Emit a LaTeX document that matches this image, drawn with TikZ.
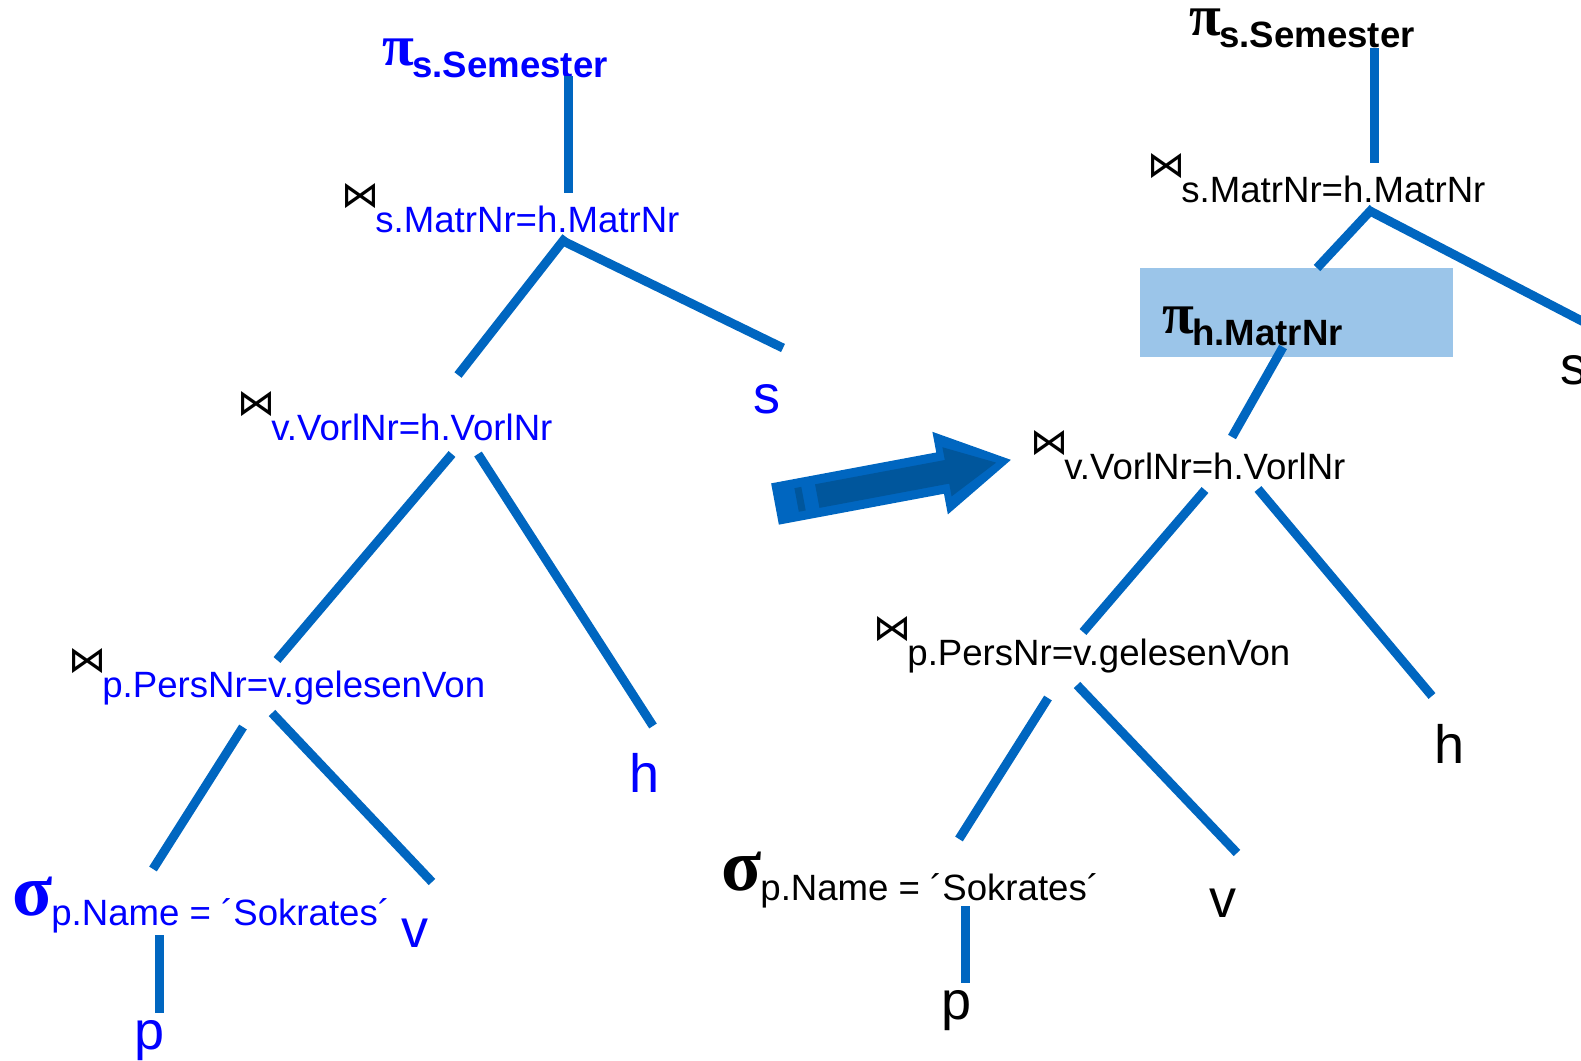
\documentclass[tikz,border=0pt]{standalone}
\usepackage{fontspec}
\usepackage{graphicx}
\setmainfont{Liberation Sans}
\newfontfamily\symfont{Liberation Serif}
\newfontfamily\bowfont{DejaVu Sans}
\definecolor{EDGE}{HTML}{0066C0}
\definecolor{TXT}{HTML}{0000FF}
\definecolor{HILITE}{HTML}{9BC5E9}
\definecolor{ARROWIN}{HTML}{00569C}
% operator labels: symbol, then the condition as subscript
\newcommand{\joinsym}{\resizebox{19pt}{12pt}{\bowfont ⋈}}
\newcommand{\njoin}[1]{\makebox[15pt][l]{\hspace{-2pt}\color{black}\raisebox{12.5pt}{\joinsym}}#1}
\newcommand{\nproj}[1]{\makebox[15pt][l]{\raisebox{6pt}{\symfont\bfseries\fontsize{29}{29}\selectfont π}}{\bfseries #1}}
\newcommand{\nsel}[1]{\makebox[19.5pt][l]{\raisebox{5pt}{\symfont\bfseries\fontsize{37}{37}\selectfont σ}}#1}

\begin{document}
\begin{tikzpicture}[x=0.5pt,y=-0.5pt]
\tikzset{lbl/.style={anchor=base west,inner sep=0pt,font=\fontsize{18.3}{20}\selectfont},
 leaf/.style={anchor=base west,inner sep=0pt,font=\fontsize{27}{30}\selectfont},
 edge/.style={line width=4.5pt,EDGE},
 arrowout/.style={fill=EDGE},arrowin/.style={fill=ARROWIN}}
\useasboundingbox (0,0) rectangle (1581,1061);

% left tree
\node[lbl,text=TXT] (Lproj) at (382,77) {\nproj{s.Semester}};
\node[lbl,text=TXT] (Ljm) at (345,232) {\njoin{s.MatrNr=h.MatrNr}};
\node[lbl,text=TXT] (Ljv) at (241,440) {\njoin{v.VorlNr=h.VorlNr}};
\node[lbl,text=TXT] (Ljp) at (72,697) {\njoin{p.PersNr=v.gelesenVon}};
\node[lbl,text=TXT] (Lsel) at (12,925) {\nsel{p.Name = ´Sokrates´}};
\node[leaf,text=TXT] (Ls) at (753,413) {s};
\node[leaf,text=TXT] (Lh) at (629,792) {h};
\node[leaf,text=TXT] (Lv) at (401,947) {v};
\node[leaf,text=TXT] (Lp) at (134,1049) {p};

\coordinate (Lproj-o) at (568,76); \coordinate (Ljm-i) at (568,193);
\coordinate (Ljm-o) at (566,237); \coordinate (Ljv-i) at (458,375);
\coordinate (Ljm-r) at (563,241); \coordinate (Ls-i) at (783,348);
\coordinate (Ljv-o) at (452,454); \coordinate (Ljp-i) at (277,660);
\coordinate (Ljv-r) at (478,454); \coordinate (Lh-i) at (653,726);
\coordinate (Ljp-o) at (243,727); \coordinate (Lsel-i) at (153,869);
\coordinate (Ljp-r) at (272,713); \coordinate (Lv-i) at (432,882);
\coordinate (Lsel-o) at (159,935); \coordinate (Lp-i) at (159,1013);
\draw[edge] (Lproj-o) -- (Ljm-i);
\draw[edge] (Ljm-o) -- (Ljv-i);
\draw[edge] (Ljm-r) -- (Ls-i);
\draw[edge] (Ljv-o) -- (Ljp-i);
\draw[edge] (Ljv-r) -- (Lh-i);
\draw[edge] (Ljp-o) -- (Lsel-i);
\draw[edge] (Ljp-r) -- (Lv-i);
\draw[edge] (Lsel-o) -- (Lp-i);

% rewrite arrow
\begin{scope}[shift={(775,504)},rotate=10.6]
\path[arrowout] (0,-21) -- (168,-21) -- (168,-42) -- (240,0) -- (168,42) -- (168,21) -- (0,21) -- cycle;
\path[arrowin] (43,-12) -- (175,-12) -- (175,-25) -- (225,0) -- (175,25) -- (175,12) -- (43,12) -- cycle;
\path[arrowin] (22,-12) rectangle (29,12);
\end{scope}

% right tree
\fill[HILITE] (1140,268) rectangle (1453,357);
\node[lbl] (Rproj) at (1189,47) {\nproj{s.Semester}};
\node[lbl] (Rjm) at (1151,202) {\njoin{s.MatrNr=h.MatrNr}};
\node[lbl] (Rprojh) at (1162,345) {\nproj{h.MatrNr}};
\node[lbl] (Rjv) at (1034,479) {\njoin{v.VorlNr=h.VorlNr}};
\node[lbl] (Rjp) at (877,665) {\njoin{p.PersNr=v.gelesenVon}};
\node[lbl] (Rsel) at (721,900) {\nsel{p.Name = ´Sokrates´}};
\node[leaf] (Rs) at (1560,384) {s};
\node[leaf] (Rh) at (1434,763) {h};
\node[leaf] (Rv) at (1209,917) {v};
\node[leaf] (Rp) at (941,1019) {p};

\coordinate (Rproj-o) at (1374,48); \coordinate (Rjm-i) at (1374,163);
\coordinate (Rjm-o) at (1373,208); \coordinate (Rprojh-i) at (1317,268);
\coordinate (Rjm-r) at (1370,211); \coordinate (Rs-i) at (1605,333);
\coordinate (Rprojh-o) at (1283,347); \coordinate (Rjv-i) at (1232,437);
\coordinate (Rjv-o) at (1205,490); \coordinate (Rjp-i) at (1083,632);
\coordinate (Rjv-r) at (1258,489); \coordinate (Rh-i) at (1432,696);
\coordinate (Rjp-o) at (1048,698); \coordinate (Rsel-i) at (959,839);
\coordinate (Rjp-r) at (1077,685); \coordinate (Rv-i) at (1237,853);
\coordinate (Rsel-o) at (965,906); \coordinate (Rp-i) at (965,983);
\draw[edge] (Rproj-o) -- (Rjm-i);
\draw[edge] (Rjm-o) -- (Rprojh-i);
\draw[edge] (Rjm-r) -- (Rs-i);
\draw[edge] (Rprojh-o) -- (Rjv-i);
\draw[edge] (Rjv-o) -- (Rjp-i);
\draw[edge] (Rjv-r) -- (Rh-i);
\draw[edge] (Rjp-o) -- (Rsel-i);
\draw[edge] (Rjp-r) -- (Rv-i);
\draw[edge] (Rsel-o) -- (Rp-i);
\end{tikzpicture}
\end{document}
